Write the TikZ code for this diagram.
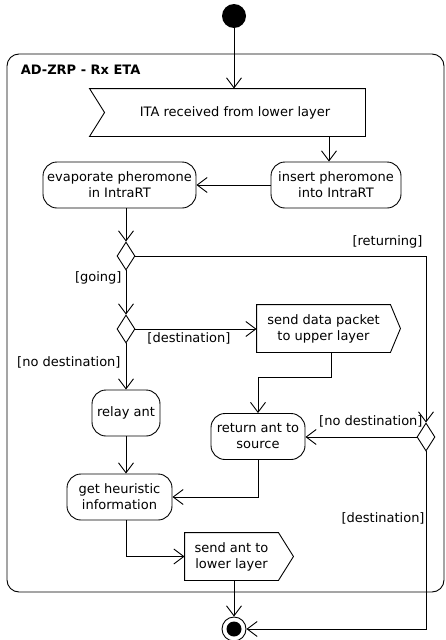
\documentclass[tikz,border=0pt]{standalone}
\usepackage{fontspec}
\setmainfont{DejaVu Sans}
\usepackage{tikz}
\usetikzlibrary{arrows.meta,shapes.geometric}

\begin{document}
\begin{tikzpicture}[x=1pt,y=-1pt,line width=0.9pt,
  font=\fontsize{13}{16}\selectfont,
  flow/.style={-{Straight Barb[length=10pt,width=15pt]}},
  action/.style={draw,rounded corners=14pt,minimum height=46pt,
    align=center,inner sep=2pt},
  sigbox/.style={minimum height=47pt,align=center,inner sep=0pt},
  choice/.style={draw,diamond,minimum width=18pt,minimum height=28pt,
    inner sep=0pt},
  guard/.style={inner sep=1pt}]
  \useasboundingbox (0,0) rectangle (445,640);
  % Frame
  \draw[rounded corners=12pt] (7,54) rectangle (444,592);
  \node[anchor=west,font=\fontsize{13}{16}\selectfont\bfseries] (title)
    at (17,70) {AD-ZRP - Rx ETA};
  % Start and end
  \node[circle,fill=black,minimum size=24pt,inner sep=0pt] (start) at (234,16) {};
  \node[circle,draw,fill=white,minimum size=24pt,inner sep=0pt]
    (final) at (234,629) {};
  \node[circle,fill=black,minimum size=15pt,inner sep=0pt] (finaldot)
    at (final) {};
  % Accept event
  \node[sigbox,minimum width=260pt] (ita) at (235,112.5)
    {ITA received from lower layer};
  \draw ([xshift=-15pt]ita.north west) -- (ita.north east) -- (ita.south east)
    -- ([xshift=-15pt]ita.south west) -- (ita.west) -- cycle;
  % Actions
  \node[action,minimum width=130pt] (insert) at (336,185)
    {insert pheromone\\into IntraRT};
  \node[action,minimum width=153pt] (evap) at (119.5,185)
    {evaporate pheromone\\in IntraRT};
  \node[action,minimum width=68pt] (relay) at (126,413) {relay ant};
  \node[action,minimum width=94pt] (returnant) at (258,436.5)
    {return ant to\\source};
  \node[action,minimum width=105pt] (heur) at (119.5,497)
    {get heuristic\\information};
  % Send signals
  \node[sigbox,minimum width=133pt] (senddata) at (323.5,328.5)
    {send data packet\\to upper layer};
  \draw (senddata.north west) -- (senddata.north east)
    -- ([xshift=10pt]senddata.east) -- (senddata.south east)
    -- (senddata.south west) -- cycle;
  \node[sigbox,minimum width=93pt] (sendant) at (231.5,556.5)
    {send ant to\\lower layer};
  \draw (sendant.north west) -- (sendant.north east)
    -- ([xshift=15pt]sendant.east) -- (sendant.south east)
    -- (sendant.south west) -- cycle;
  % Decisions
  \node[choice] (dec1) at (126,256) {};
  \node[choice] (dec2) at (126,329) {};
  \node[choice] (dec3) at (426,437) {};
  % Guards
  \node[guard,anchor=east] (lreturning) at (424,242) {[returning]};
  \node[guard,anchor=east] (lgoing) at (123,278) {[going]};
  \node[guard,anchor=west] (ldest) at (146,338) {[destination]};
  \node[guard,anchor=east] (lnodest) at (122,362) {[no destination]};
  \node[guard,anchor=east] (lnodestb) at (424,421) {[no destination]};
  \node[guard,anchor=east] (ldestb) at (426,518) {[destination]};
  % Flows
  \draw[flow] (start) -- (start |- ita.north);
  \draw[flow] ([xshift=-7pt]insert.north |- ita.south) -- ([xshift=-7pt]insert.north);
  \draw[flow] (insert) -- (evap);
  \draw[flow] (evap.south -| dec1) -- (dec1);
  \draw[flow] (dec1.east) -| (dec3.north);
  \draw[flow] (dec1) -- (dec2);
  \draw[flow] (dec2.east) -- (dec2.east -| senddata.west);
  \draw[flow] (dec2) -- (relay);
  \draw[flow] ([xshift=7.5pt]senddata.south) -- ++(0,25) -| (returnant.north);
  \draw[flow] (dec3.west) -- (dec3.west -| returnant.east);
  \draw[flow] (dec3.south) |- (final.east);
  \draw[flow] (relay) -- (relay |- heur.north);
  \draw[flow] (returnant.south) |- (heur.east);
  \draw[flow] (heur.south -| relay) |- (sendant.west);
  \draw[flow] (final.north |- sendant.south) -- (final.north);
\end{tikzpicture}
\end{document}
